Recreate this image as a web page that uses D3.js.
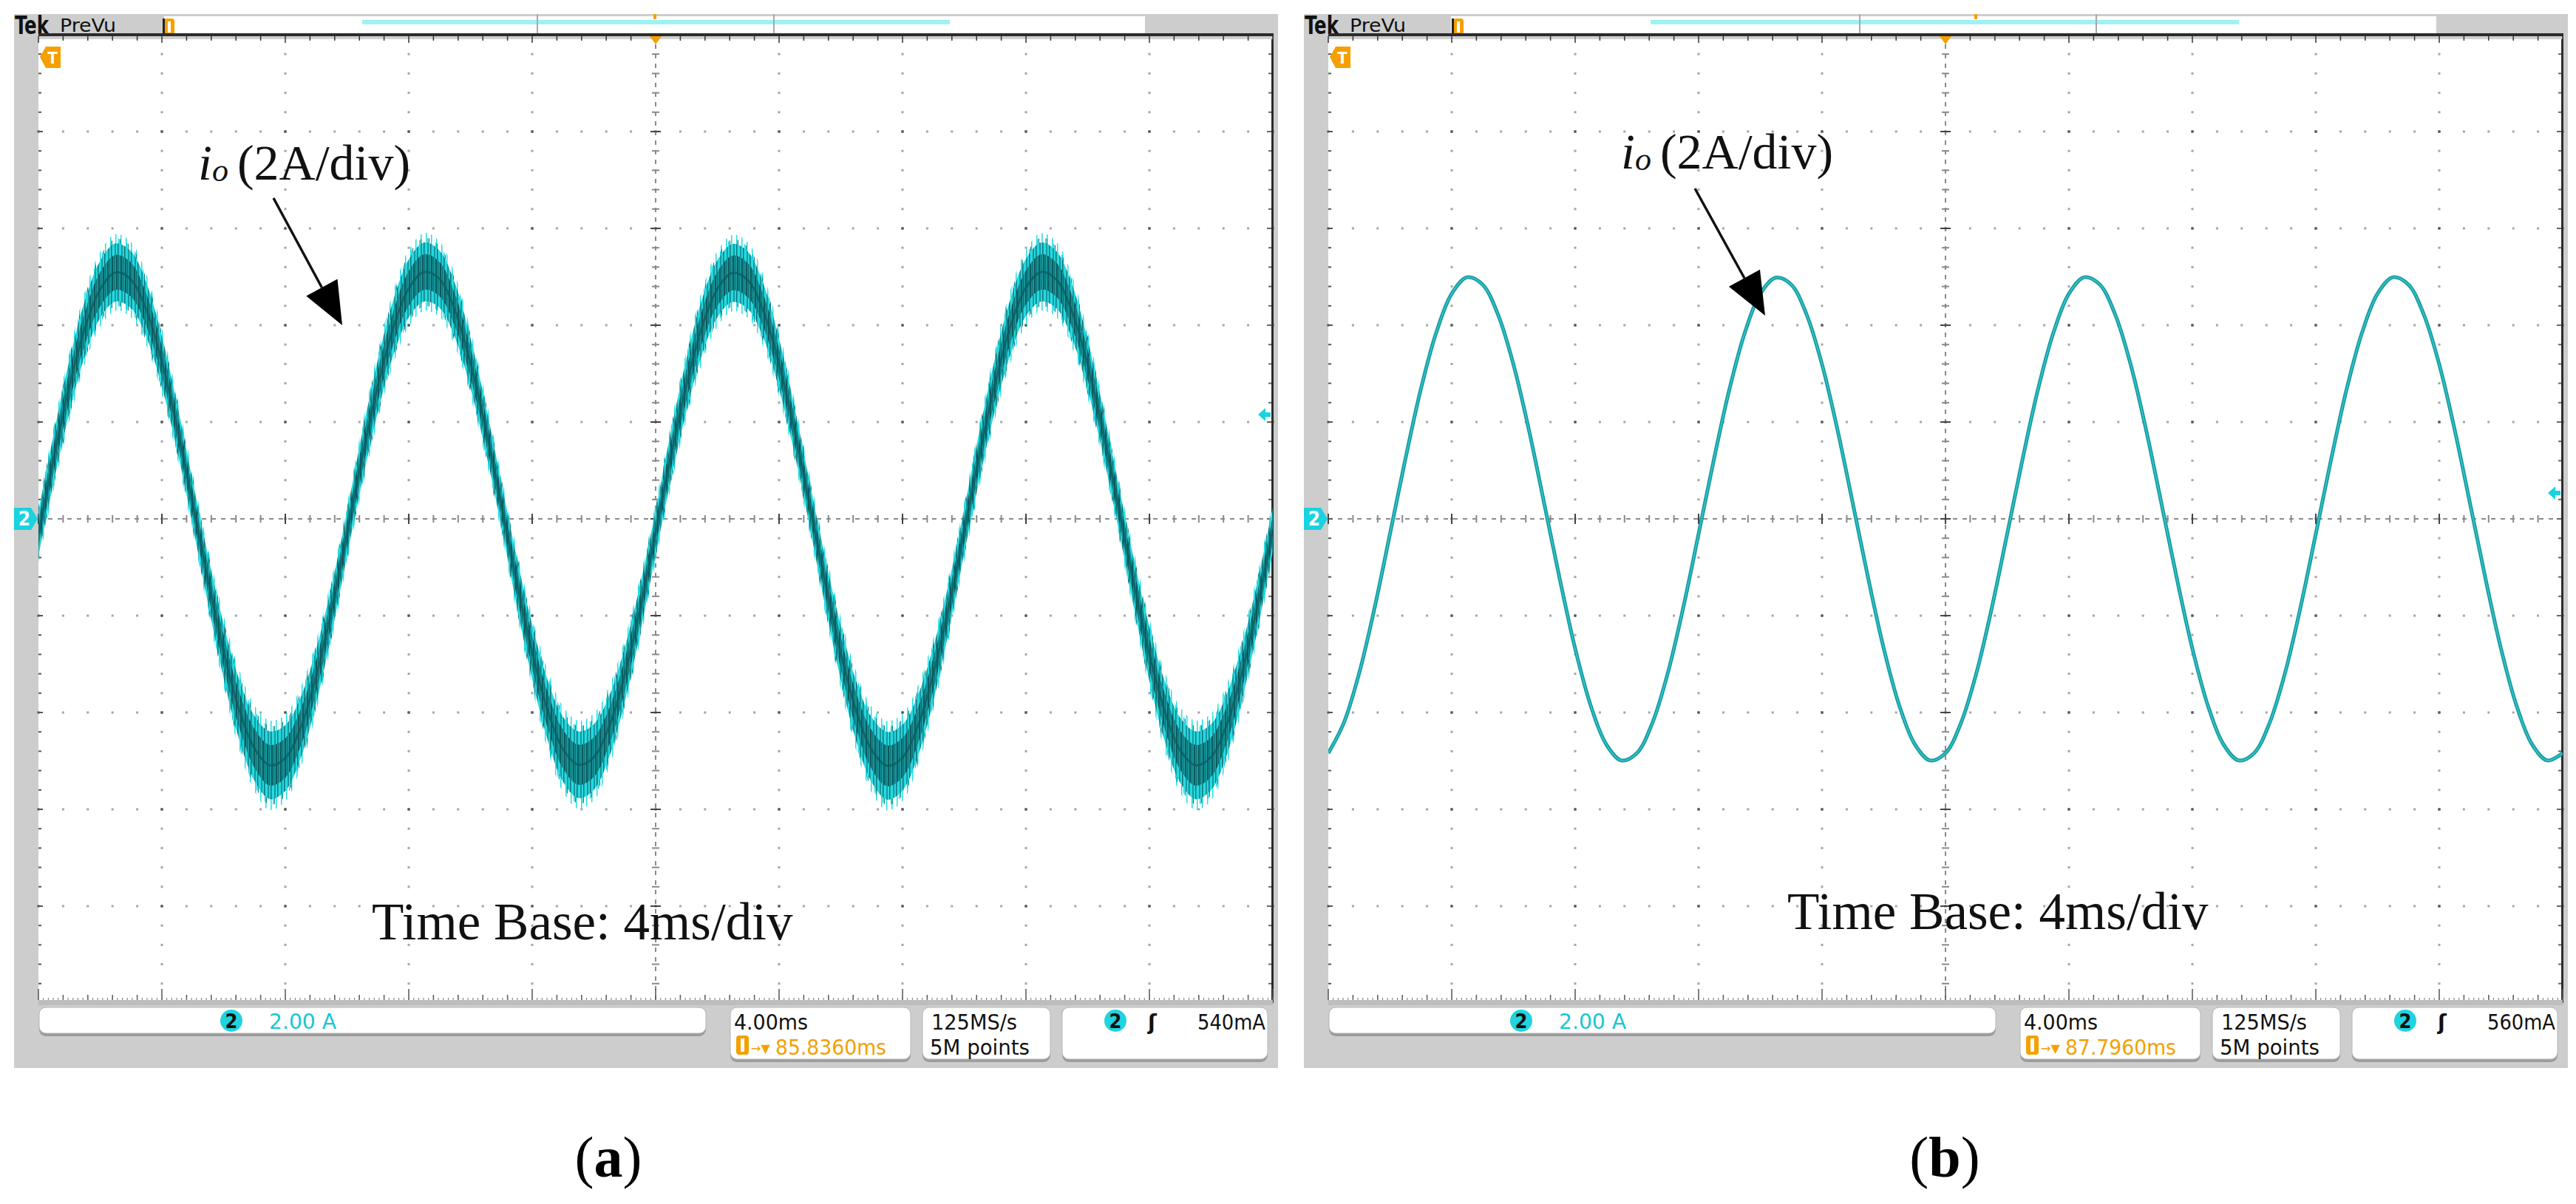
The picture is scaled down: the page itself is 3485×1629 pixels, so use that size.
<!DOCTYPE html>
<html><head><meta charset="utf-8">
<script src="https://cdn.jsdelivr.net/npm/d3@7"></script>
<style>html,body{margin:0;padding:0;background:#fff;} svg{display:block;}</style>
</head><body>
<svg id="chart" width="3485" height="1629"></svg>
<script>
// ---------------- data ----------------
const timeMs = [0,0.5,1,1.5,2,2.5,3,3.5,4,4.5,5,5.5,6,6.5,7,7.5,8,8.5,9,9.5,
  10,10.5,11,11.5,12,12.5,13,13.5,14,14.5,15,15.5,16,16.5,17,17.5,18,18.5,19,19.5,
  20,20.5,21,21.5,22,22.5,23,23.5,24,24.5,25,25.5,26,26.5,27,27.5,28,28.5,29,29.5,
  30,30.5,31,31.5,32,32.5,33,33.5,34,34.5,35,35.5,36,36.5,37,37.5,38,38.5,39,39.5,40];

// panel (a): output current io (A), centre of the rippled trace
const currentA = [-0.32,1.27,2.73,3.93,4.74,5.09,4.94,4.31,3.25,1.88,0.32,-1.27,-2.73,-3.93,-4.74,-5.09,-4.94,-4.31,-3.25,-1.88,
  -0.30,1.30,2.75,3.95,4.76,5.10,4.95,4.30,3.22,1.85,0.30,-1.30,-2.75,-3.95,-4.76,-5.08,-4.92,-4.28,-3.22,-1.85,
  -0.28,1.32,2.77,3.96,4.75,5.08,4.92,4.28,3.20,1.83,0.27,-1.32,-2.77,-3.97,-4.77,-5.10,-4.93,-4.27,-3.20,-1.82,
  -0.25,1.34,2.79,3.98,4.78,5.10,4.93,4.27,3.18,1.80,0.25,-1.34,-2.79,-3.98,-4.78,-5.09,-4.92,-4.26,-3.18,-1.80,-0.22];

// panel (a): switching ripple half-band (A)
const rippleA = [0.46,0.50,0.54,0.57,0.59,0.60,0.59,0.56,0.52,0.48,0.46,0.50,0.56,0.62,0.67,0.70,0.68,0.63,0.56,0.50,
  0.46,0.50,0.54,0.57,0.60,0.61,0.59,0.56,0.52,0.48,0.46,0.50,0.56,0.62,0.67,0.69,0.68,0.63,0.56,0.50,
  0.46,0.50,0.54,0.57,0.59,0.60,0.59,0.56,0.52,0.48,0.46,0.50,0.56,0.62,0.67,0.70,0.68,0.63,0.56,0.50,
  0.46,0.50,0.54,0.57,0.59,0.61,0.59,0.56,0.52,0.48,0.46,0.50,0.56,0.62,0.67,0.70,0.68,0.63,0.56,0.50,0.46];

// panel (b): output current io (A)
const currentB = [-4.84,-4.22,-3.19,-1.84,-0.31,1.24,2.68,3.85,4.65,4.99,4.84,4.22,3.19,1.84,0.31,-1.24,-2.68,-3.85,-4.65,-4.99,
  -4.84,-4.22,-3.19,-1.84,-0.31,1.24,2.68,3.85,4.65,4.98,4.84,4.22,3.19,1.84,0.31,-1.24,-2.68,-3.85,-4.65,-4.99,
  -4.84,-4.22,-3.19,-1.84,-0.31,1.24,2.68,3.85,4.65,4.99,4.84,4.22,3.19,1.84,0.31,-1.24,-2.68,-3.85,-4.65,-4.99,
  -4.84,-4.22,-3.19,-1.84,-0.31,1.24,2.68,3.85,4.65,4.99,4.84,4.22,3.19,1.84,0.31,-1.24,-2.68,-3.85,-4.65,-4.99,-4.84];

const panelLabels = ["a", "b"];
const annotText = ["(2A/div)", "(2A/div)"];
const timeBaseText = ["Time Base: 4ms/div", "Time Base: 4ms/div"];
const chScaleText = ["2.00 A", "2.00 A"];
const timeDivText = ["4.00ms", "4.00ms"];
const delayText = ["85.8360ms", "87.7960ms"];
const rateText = ["125MS/s", "125MS/s"];
const recordText = ["5M points", "5M points"];
const trigText = ["540mA", "560mA"];
const timeDomain = [0, 40];        // 10 div x 4 ms
const ampDomain = [-10, 10];       // 10 div x 2 A

// ---------------- drawing ----------------
const svg = d3.select("#chart");
const defs = svg.append("defs");
const COND = "'Liberation Sans Narrow','Arial Narrow','DejaVu Sans Condensed','Liberation Sans',sans-serif";
const SERIF = "'Liberation Serif','Times New Roman',serif";

// ripple texture patterns (style only)
function stripePattern(id, w, base, stripes) {
  const p = defs.append("pattern").attr("id",id).attr("patternUnits","userSpaceOnUse").attr("width",w).attr("height",20);
  if (base) p.append("rect").attr("width",w).attr("height",20).attr("fill",base);
  stripes.forEach(s => p.append("rect").attr("x",s[0]).attr("width",s[1]).attr("height",20).attr("fill",s[2]));
}
stripePattern("fringe1", 7, null, [[2,1.5,"#22dde5"]]);
stripePattern("fringe2", 11, null, [[6,1.5,"#1fcfd7"],[8,1,"#137f84"]]);
stripePattern("ripOuter", 9, "#26d9e0", [[2,2,"#129aa0"],[6,1.5,"#0e7479"]]);
stripePattern("ripInner", 6, "#15989d", [[1,2,"#0a5a5e"],[4,1,"#0d6c70"]]);

const cfgs = [
  {ox:0, tekW:203, whiteR:1549, cyan:[490,1285], vlines:[727,1047], topMark:886, orangeX:222,
   annot:{x:268,y:243, a0:[370,268], a1:[463,440]}, tb:{x:503,y:1271}, trigY:561, data:"a"},
  {ox:1745, tekW:199, whiteR:3296, cyan:[2233,3029], vlines:[2516,2836], topMark:2673, orangeX:1966,
   annot:{x:2193,y:228, a0:[2293,255], a1:[2388,427]}, tb:{x:2418,y:1257}, trigY:667, data:"b"}
];

cfgs.forEach((c, pi) => {
  const ox = c.ox;
  const g = svg.append("g");
  const fx0 = 19 + ox, fx1 = 1729 + ox, fy0 = 19, fy1 = 1445;
  const gx0 = 52 + ox, gx1 = 1722 + ox, gy0 = 47, gy1 = 1357;
  const x = d3.scaleLinear().domain(timeDomain).range([gx0, gx1]);
  const y = d3.scaleLinear().domain(ampDomain).range([gy1, gy0]);

  // frame
  g.append("rect").attr("x",fx0).attr("y",fy0).attr("width",fx1-fx0).attr("height",fy1-fy0).attr("fill","#cdcdcd");
  g.append("rect").attr("x",fx0+c.tekW).attr("y",22).attr("width",c.whiteR-(fx0+c.tekW)).attr("height",25).attr("fill","#fff");
  g.append("rect").attr("x",gx0).attr("y",gy0).attr("width",gx1-gx0).attr("height",gy1-gy0).attr("fill","#fff");

  // Tek PreVu
  g.append("text").attr("x",fx0+1).attr("y",46).attr("font-family",COND).attr("font-weight","bold")
    .attr("font-size",34).attr("textLength",46).attr("lengthAdjust","spacingAndGlyphs").attr("fill","#111").text("Tek");
  g.append("text").attr("x",fx0+62).attr("y",43).attr("font-family",COND)
    .attr("font-size",24).attr("textLength",76).attr("lengthAdjust","spacingAndGlyphs").attr("fill","#111").text("PreVu");
  // record-position marker
  g.append("rect").attr("x",c.orangeX).attr("y",25).attr("width",14).attr("height",22).attr("rx",4).attr("fill","#f5a000");
  g.append("rect").attr("x",c.orangeX+5).attr("y",29).attr("width",4).attr("height",15).attr("fill","#fff");
  g.append("rect").attr("x",c.orangeX-2).attr("y",25).attr("width",3).attr("height",22).attr("fill","#222");
  // cyan record bar + view lines
  g.append("rect").attr("x",c.cyan[0]).attr("y",27).attr("width",c.cyan[1]-c.cyan[0]).attr("height",6).attr("fill","#9ef2f4");
  c.vlines.forEach(v => g.append("rect").attr("x",v-1).attr("y",19).attr("width",2).attr("height",28).attr("fill","#a8a8a8"));
  g.append("rect").attr("x",c.topMark-2).attr("y",19).attr("width",4).attr("height",7).attr("fill","#f5a000");

  // grid dots
  const majT = d3.range(4, 40, 4).filter(t => t !== 20);
  const majA = d3.range(-8, 10, 2).filter(a => a !== 0);
  const minT = d3.range(0, 40.01, 0.8);
  const minA = d3.range(-10, 10.01, 0.4);
  const dots = g.append("g");
  majT.forEach(t => minA.forEach((a,i) => dots.append("rect").attr("x",x(t)-1.5).attr("y",y(a)-1.5)
    .attr("width",3).attr("height",3).attr("fill", i%5===0 ? "#555" : "#a5a5a5")));
  majA.forEach(a => minT.forEach((t,i) => dots.append("rect").attr("x",x(t)-1.5).attr("y",y(a)-1.5)
    .attr("width",3).attr("height",3).attr("fill", i%5===0 ? "#555" : "#a5a5a5")));
  // centre cross
  g.append("line").attr("x1",gx0).attr("x2",gx1).attr("y1",y(0)).attr("y2",y(0))
    .attr("stroke","#8a8a8a").attr("stroke-width",2).attr("stroke-dasharray","6,7");
  g.append("line").attr("x1",x(20)).attr("x2",x(20)).attr("y1",gy0).attr("y2",gy1)
    .attr("stroke","#8a8a8a").attr("stroke-width",2).attr("stroke-dasharray","6,7");
  minT.forEach((t,i) => g.append("line").attr("x1",x(t)).attr("x2",x(t)).attr("y1",y(0)-(i%5===0?7:5)).attr("y2",y(0)+(i%5===0?7:5))
    .attr("stroke", i%5===0 ? "#444" : "#888").attr("stroke-width",2));
  minA.forEach((a,i) => g.append("line").attr("y1",y(a)).attr("y2",y(a)).attr("x1",x(20)-(i%5===0?7:5)).attr("x2",x(20)+(i%5===0?7:5))
    .attr("stroke", i%5===0 ? "#444" : "#888").attr("stroke-width",2));
  // edges
  minA.forEach((a,i) => {
    g.append("line").attr("x1",gx0).attr("x2",gx0+(i%5===0?6:4)).attr("y1",y(a)).attr("y2",y(a)).attr("stroke","#555").attr("stroke-width",2);
    g.append("line").attr("x1",gx1-(i%5===0?8:6)).attr("x2",gx1).attr("y1",y(a)).attr("y2",y(a)).attr("stroke","#666").attr("stroke-width",2);
  });
  g.append("rect").attr("x",gx1-2).attr("y",gy0).attr("width",3).attr("height",gy1-gy0).attr("fill","#2c2c2c");
  // top ruler
  g.append("rect").attr("x",gx0).attr("y",45).attr("width",gx1-gx0+1).attr("height",4).attr("fill","#2c2c2c");
  g.append("rect").attr("x",gx0).attr("y",49).attr("width",gx1-gx0).attr("height",4).attr("fill","#cfcfcf");
  minT.forEach((t,i) => g.append("line").attr("x1",x(t)).attr("x2",x(t)).attr("y1",49).attr("y2",i%5===0?58:55)
    .attr("stroke","#333").attr("stroke-width",1.5));
  // bottom ruler
  g.append("rect").attr("x",gx0).attr("y",1353).attr("width",gx1-gx0).attr("height",7).attr("fill","#bdbdbd");
  minT.forEach((t,i) => g.append("line").attr("x1",x(t)).attr("x2",x(t)).attr("y1",1353).attr("y2",i%5===0?1338:1346)
    .attr("stroke","#555").attr("stroke-width",1.5));
  d3.range(0,40.01,0.16).forEach(t => g.append("line").attr("x1",x(t)).attr("x2",x(t)).attr("y1",1353).attr("y2",1350)
    .attr("stroke","#777").attr("stroke-width",1));

  // trigger marker top
  g.append("path").attr("d",`M${x(20)-8},49 L${x(20)+8},49 L${x(20)},60 Z`).attr("fill","#f5a000");
  // T marker top-left
  g.append("path").attr("d",`M${gx0+2},${77} L${gx0+10},63 L${gx0+30},63 L${gx0+30},92 L${gx0+10},92 Z`).attr("fill","#f5a000");
  g.append("text").attr("x",gx0+19).attr("y",86).attr("text-anchor","middle").attr("font-family",COND)
    .attr("font-weight","bold").attr("font-size",22).attr("fill","#fff").text("T");
  // channel 2 ground marker
  const yz = y(0);
  g.append("path").attr("d",`M${fx0},${yz-15} L${gx0-10},${yz-15} L${gx0-1},${yz} L${gx0-10},${yz+15} L${fx0},${yz+15} Z`).attr("fill","#19d3de");
  g.append("text").attr("x",fx0+14).attr("y",yz+9).attr("text-anchor","middle").attr("font-family",COND)
    .attr("font-weight","bold").attr("font-size",26).attr("fill","#fff").text("2");
  // trigger level arrow
  const ty = c.trigY;
  g.append("path").attr("d",`M${gx1-20},${ty} L${gx1-10},${ty-9} L${gx1-10},${ty-3} L${gx1-3},${ty-3} L${gx1-3},${ty+3} L${gx1-10},${ty+3} L${gx1-10},${ty+9} Z`).attr("fill","#19d3de");

  // waveform
  const clipId = "clip" + pi;
  defs.append("clipPath").attr("id",clipId).append("rect").attr("x",gx0).attr("y",gy0).attr("width",gx1-gx0).attr("height",gy1-gy0);
  const wg = g.append("g").attr("clip-path",`url(#${clipId})`);
  const curve = d3.curveCatmullRom.alpha(0.5);
  if (c.data === "a") {
    const rows = timeMs.map((t,i) => ({t, v: currentA[i], r: rippleA[i]}));
    const band = k => d3.area().curve(curve).x(d => x(d.t)).y0(d => y(d.v - d.r*k)).y1(d => y(d.v + d.r*k));
    wg.append("path").datum(rows).attr("d",band(1.32)).attr("fill","url(#fringe1)");
    wg.append("path").datum(rows).attr("d",band(1.16)).attr("fill","url(#fringe2)");
    wg.append("path").datum(rows).attr("d",band(1.0)).attr("fill","url(#ripOuter)");
    wg.append("path").datum(rows).attr("d",band(0.6)).attr("fill","url(#ripInner)");
    wg.append("path").datum(rows).attr("d", d3.line().curve(curve).x(d => x(d.t)).y(d => y(d.v)))
      .attr("fill","none").attr("stroke","#0b5c60").attr("stroke-width",3).attr("opacity",0.75);
  } else {
    const rows = timeMs.map((t,i) => ({t, v: currentB[i]}));
    const line = d3.line().curve(curve).x(d => x(d.t)).y(d => y(d.v));
    wg.append("path").datum(rows).attr("d",line).attr("fill","none").attr("stroke","#17959a").attr("stroke-width",5);
    wg.append("path").datum(rows).attr("d",line).attr("fill","none").attr("stroke","#2cc3c8").attr("stroke-width",2);
  }

  // annotation io (2A/div)
  const an = c.annot;
  const at = g.append("text").attr("x",an.x).attr("y",an.y).attr("font-family",SERIF).attr("fill","#111");
  at.append("tspan").attr("font-style","italic").attr("font-size",68).text("i");
  at.append("tspan").attr("font-style","italic").attr("font-size",44).attr("dy",2).text("o");
  at.append("tspan").attr("font-size",68).attr("dy",-2).attr("dx",12).text(annotText[pi]);
  // arrow
  const [sx,sy] = an.a0, [ex,ey] = an.a1;
  const L = Math.hypot(ex-sx, ey-sy), ux = (ex-sx)/L, uy = (ey-sy)/L;
  const hl = 58, hw = 24;
  const bx = ex - ux*hl, by = ey - uy*hl;
  g.append("line").attr("x1",sx).attr("y1",sy).attr("x2",bx).attr("y2",by).attr("stroke","#111").attr("stroke-width",3.5);
  g.append("path").attr("d",`M${ex},${ey} L${bx - uy*hw},${by + ux*hw} L${bx + uy*hw},${by - ux*hw} Z`).attr("fill","#000");

  // time base text
  g.append("text").attr("x",c.tb.x).attr("y",c.tb.y).attr("font-family",SERIF).attr("font-size",71)
    .attr("fill","#111").text(timeBaseText[pi]);

  // status boxes
  const box = (x0,x1,y0,y1) => {
    g.append("rect").attr("x",x0+ox).attr("y",y0+4).attr("width",x1-x0).attr("height",y1-y0).attr("rx",9).attr("fill","#9c9c9c");
    g.append("rect").attr("x",x0+ox).attr("y",y0).attr("width",x1-x0).attr("height",y1-y0).attr("rx",9).attr("fill","#fff")
      .attr("stroke","#b5b5b5").attr("stroke-width",1);
  };
  box(53,955,1363,1398); box(988,1232,1363,1433); box(1248,1421,1363,1433); box(1437,1715,1363,1433);
  const txt = (xx, yy, s, w, col, anchor) => g.append("text").attr("x",xx+ox).attr("y",yy).attr("font-family",COND)
    .attr("font-size",29).attr("fill",col).attr("text-anchor",anchor||"start")
    .attr("textLength",w).attr("lengthAdjust","spacingAndGlyphs").text(s);
  const badge = (cx) => {
    g.append("ellipse").attr("cx",cx+ox).attr("cy",1381).attr("rx",15).attr("ry",15).attr("fill","#1fd3df");
    g.append("text").attr("x",cx+ox).attr("y",1391).attr("text-anchor","middle").attr("font-family",COND)
      .attr("font-weight","bold").attr("font-size",27).attr("fill","#111").text("2");
  };
  badge(313);
  txt(364,1392,chScaleText[pi],91,"#17c6d3");
  txt(993,1393,timeDivText[pi],100,"#111");
  g.append("rect").attr("x",996+ox).attr("y",1401).attr("width",17).attr("height",26).attr("rx",4).attr("fill","#f5a000");
  g.append("rect").attr("x",1002+ox).attr("y",1405).attr("width",5).attr("height",18).attr("fill","#fff");
  g.append("text").attr("x",1016+ox).attr("y",1424).attr("font-family","'DejaVu Sans',sans-serif").attr("font-size",16)
    .attr("fill","#f5a000").text("→▼");
  txt(1049,1427,delayText[pi],150,"#f5a000");
  txt(1260,1393,rateText[pi],116,"#111");
  txt(1258,1427,recordText[pi],135,"#111");
  badge(1509);
  g.append("text").attr("x",1553+ox).attr("y",1393).attr("font-family","'DejaVu Sans',sans-serif").attr("font-size",28)
    .attr("font-weight","bold").attr("fill","#111").text("ʃ");
  txt(1712,1393,trigText[pi],92,"#111","end");

  // panel label
  const lx = pi === 0 ? 823 : 2631;
  const lt = g.append("text").attr("x",lx).attr("y",1592).attr("text-anchor","middle").attr("font-family",SERIF)
    .attr("font-size",78).attr("fill","#000");
  lt.append("tspan").text("(");
  lt.append("tspan").attr("font-weight","bold").text(panelLabels[pi]);
  lt.append("tspan").text(")");
});
</script>
</body></html>
